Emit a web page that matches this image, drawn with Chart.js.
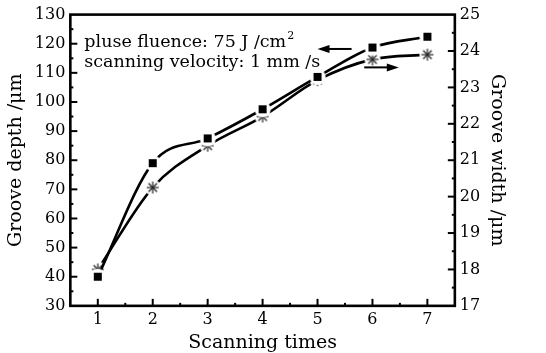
<!DOCTYPE html>
<html>
<head>
<meta charset="utf-8">
<script src="https://cdn.jsdelivr.net/npm/chart.js@4/dist/chart.umd.min.js"></script>
<style>
  html, body { margin: 0; padding: 0; background: #fff; }
  #wrap { width: 546px; height: 353px; }
</style>
</head>
<body>
<div id="wrap"><canvas id="grooveChart" width="546" height="353"></canvas></div>
<script>
const times = [1, 2, 3, 4, 5, 6, 7];
const depth = [40, 79, 87.5, 97.5, 108.6, 118.7, 122.4];   // Groove depth /μm
const width = [18.0, 20.25, 21.4, 22.2, 23.2, 23.77, 23.9]; // Groove width /μm
const depthTicks = [30, 40, 50, 60, 70, 80, 90, 100, 110, 120, 130];
const widthTicks = [17, 18, 19, 20, 21, 22, 23, 24, 25];
const notes = ['pluse fluence: 75 J /cm', 'scanning velocity: 1 mm /s'];

const serif = '"DejaVu Serif", "Liberation Serif", serif';

// point symbols with a white halo so the curve breaks around them
function symbol(draw) {
  const c = document.createElement('canvas');
  c.width = c.height = 18;
  const g = c.getContext('2d');
  g.fillStyle = '#fff';
  g.beginPath(); g.arc(9, 9, 8, 0, 2 * Math.PI); g.fill();
  draw(g);
  return c;
}
const squareSym = symbol(g => { g.fillStyle = '#000'; g.fillRect(5, 5, 8, 8); });
const starSym = symbol(g => {
  g.strokeStyle = '#222'; g.lineWidth = 1.2;
  for (let a = 0; a < 4; a++) {
    const t = a * Math.PI / 4, dx = Math.cos(t) * 6, dy = Math.sin(t) * 6;
    g.beginPath(); g.moveTo(9 - dx, 9 - dy); g.lineTo(9 + dx, 9 + dy); g.stroke();
  }
});

function arrow(ctx, x0, y0, x1, y1) {
  const dir = Math.sign(x1 - x0);
  ctx.beginPath(); ctx.moveTo(x0, y0); ctx.lineTo(x1 - dir * 6, y1); ctx.stroke();
  ctx.beginPath();
  ctx.moveTo(x1, y1); ctx.lineTo(x1 - dir * 12, y1 - 4); ctx.lineTo(x1 - dir * 12, y1 + 4);
  ctx.closePath(); ctx.fill();
}

// frame, inward ticks, arrows and the notes
const framePlugin = {
  id: 'frame',
  afterDatasetsDraw(chart) {
    const { ctx, chartArea: a, scales } = chart;
    const { x, y, y1 } = scales;
    ctx.save();
    ctx.strokeStyle = '#000'; ctx.fillStyle = '#000';
    ctx.lineWidth = 2;
    for (let v = 1; v <= 7; v += 0.5) {
      const px = x.getPixelForValue(v), len = v % 1 === 0 ? 7 : 3;
      ctx.beginPath(); ctx.moveTo(px, a.bottom); ctx.lineTo(px, a.bottom - len); ctx.stroke();
    }
    for (let v = 35; v < 130; v += 5) {
      const py = y.getPixelForValue(v), len = v % 10 === 0 ? 7 : 3;
      ctx.beginPath(); ctx.moveTo(a.left, py); ctx.lineTo(a.left + len, py); ctx.stroke();
    }
    for (let v = 17.5; v < 25; v += 0.5) {
      const py = y1.getPixelForValue(v), len = v % 1 === 0 ? 7 : 3;
      ctx.beginPath(); ctx.moveTo(a.right, py); ctx.lineTo(a.right - len, py); ctx.stroke();
    }
    ctx.lineWidth = 2.6;
    ctx.strokeRect(a.left, a.top, a.right - a.left, a.bottom - a.top);

    ctx.lineWidth = 2;
    arrow(ctx, x.getPixelForValue(5.62), y.getPixelForValue(118.2),
               x.getPixelForValue(5.0), y.getPixelForValue(118.2));
    arrow(ctx, x.getPixelForValue(5.85), y1.getPixelForValue(23.55),
               x.getPixelForValue(6.48), y1.getPixelForValue(23.55));

    ctx.font = '17.5px ' + serif;
    ctx.textBaseline = 'alphabetic';
    const tx = a.left + 14;
    ctx.fillText(notes[0], tx, a.top + 32);
    const w = ctx.measureText(notes[0]).width;
    ctx.font = '11px ' + serif;
    ctx.fillText('2', tx + w + 1, a.top + 24);
    ctx.font = '17.5px ' + serif;
    ctx.fillText(notes[1], tx, a.top + 52);
    ctx.restore();
  }
};

const lineOpts = {
  borderColor: '#000',
  borderWidth: 2.6,
  cubicInterpolationMode: 'monotone',
  pointRadius: 9,
  pointHoverRadius: 9
};

const tickFont = { family: serif, size: 16 };
const titleFont = { family: serif, size: 19 };

new Chart(document.getElementById('grooveChart').getContext('2d'), {
  type: 'line',
  data: {
    labels: times,
    datasets: [
      { ...lineOpts, label: 'Groove depth', yAxisID: 'y',
        data: times.map((t, i) => ({ x: t, y: depth[i] })), pointStyle: squareSym },
      { ...lineOpts, label: 'Groove width', yAxisID: 'y1',
        data: times.map((t, i) => ({ x: t, y: width[i] })), pointStyle: starSym }
    ]
  },
  options: {
    responsive: false,
    animation: false,
    layout: { padding: { top: 10, left: 5, right: 36, bottom: 0 } },
    plugins: { legend: { display: false }, tooltip: { enabled: false } },
    scales: {
      x: {
        type: 'linear', min: 0.5, max: 7.5,
        afterBuildTicks: s => { s.ticks = times.map(v => ({ value: v })); },
        grid: { display: false, drawTicks: false },
        border: { display: false },
        ticks: { color: '#000', padding: 4, font: tickFont },
        title: { display: true, text: 'Scanning times', color: '#000', padding: { top: 0, bottom: 0 },
                 font: { ...titleFont, lineHeight: 1.05 } }
      },
      y: {
        position: 'left', min: 30, max: 130,
        afterBuildTicks: s => { s.ticks = depthTicks.map(v => ({ value: v })); },
        grid: { display: false, drawTicks: false },
        border: { display: false },
        ticks: { color: '#000', padding: 5, font: tickFont },
        title: { display: true, text: 'Groove depth /μm', color: '#000', padding: { top: 0, bottom: 2 },
                 font: titleFont }
      },
      y1: {
        position: 'right', min: 17, max: 25,
        afterBuildTicks: s => { s.ticks = widthTicks.map(v => ({ value: v })); },
        grid: { display: false, drawTicks: false },
        border: { display: false },
        ticks: { color: '#000', padding: 5, font: tickFont },
        title: { display: true, text: 'Groove width /μm', color: '#000', padding: { top: 2, bottom: 0 },
                 font: titleFont }
      }
    }
  },
  plugins: [framePlugin]
});
</script>
</body>
</html>
